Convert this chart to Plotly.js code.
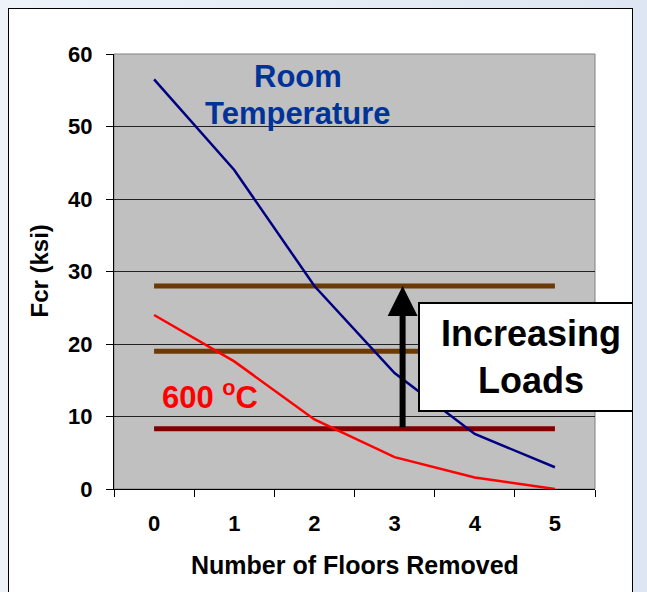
<!DOCTYPE html>
<html>
<head>
<meta charset="utf-8">
<script src="https://cdn.plot.ly/plotly-3.0.1.min.js"></script>
<style>
  html, body { margin: 0; padding: 0; width: 647px; height: 592px; overflow: hidden;
    background: linear-gradient(to right, #eef3fa, #dde6f2); }
  #chart { position: absolute; left: 8px; top: 8px; width: 623px; height: 600px;
    border: 1px solid #000; background: #fff; overflow: hidden; }
</style>
</head>
<body>
<div id="chart"></div>
<script>
// ---- data ----
const floorsRemoved = ['0', '1', '2', '3', '4', '5'];
const roomTemp = [56.5, 44, 28, 16, 7.6, 3.0];
const temp600 = [24, 17.6, 9.6, 4.4, 1.6, 0];
const loadLevels = [28, 19, 8.3];
const loadColors = ['#6B3A05', '#6B3A05', '#800000'];
const yTicks = [0, 10, 20, 30, 40, 50, 60];

const FONT = 'Liberation Sans, Arial, sans-serif';

const traces = [];
loadLevels.forEach((lv, i) => {
  traces.push({
    x: [floorsRemoved[0], floorsRemoved[floorsRemoved.length - 1]],
    y: [lv, lv],
    mode: 'lines',
    line: { color: loadColors[i], width: 5 },
    hoverinfo: 'skip', showlegend: false
  });
});
traces.push({ x: floorsRemoved, y: roomTemp, mode: 'lines',
  line: { color: '#000080', width: 2.5 }, showlegend: false });
traces.push({ x: floorsRemoved, y: temp600, mode: 'lines',
  line: { color: '#FF0000', width: 2.5 }, showlegend: false });

const layout = {
  width: 623, height: 600,
  margin: { l: 105, r: 37, t: 45, b: 120 },
  paper_bgcolor: 'rgba(0,0,0,0)',
  plot_bgcolor: '#C0C0C0',
  showlegend: false,
  xaxis: {
    type: 'category', categoryarray: floorsRemoved, categoryorder: 'array',
    range: [-0.5, 5.5], tickson: 'boundaries',
    ticks: 'outside', ticklen: 7, tickcolor: '#000', tickwidth: 1,
    showline: true, linecolor: '#000', linewidth: 1,
    showgrid: false, zeroline: false,
    tickfont: { family: FONT, size: 22, color: '#000', weight: 700 },
    ticklabelstandoff: 15
  },
  yaxis: {
    range: [0, 60], tickvals: yTicks, ticktext: yTicks.map(String),
    ticks: 'outside', ticklen: 7, tickcolor: '#000', tickwidth: 1,
    showline: true, linecolor: '#000', linewidth: 1,
    showgrid: true, gridcolor: '#222', gridwidth: 1, zeroline: false,
    tickfont: { family: FONT, size: 22, color: '#000', weight: 700 },
    ticklabelstandoff: 9
  },
  shapes: [{
    type: 'rect', xref: 'paper', yref: 'paper', x0: 0, x1: 1, y0: 0, y1: 1,
    line: { color: '#808080', width: 1 }, layer: 'below'
  }],
  annotations: [
    { xref: 'paper', yref: 'paper', x: 0.5, y: 0, yshift: -76, showarrow: false,
      text: 'Number of Floors Removed', xanchor: 'center', yanchor: 'middle',
      font: { family: FONT, size: 25, color: '#000', weight: 700 } },
    { xref: 'paper', yref: 'paper', x: 0, y: 0.5, xshift: -75, showarrow: false,
      text: 'Fcr (ksi)', textangle: -90, xanchor: 'center', yanchor: 'middle',
      font: { family: FONT, size: 24, color: '#000', weight: 700 } },
    { xref: 'paper', yref: 'paper', x: 0.3825, y: 0.949, showarrow: false,
      text: 'Room', xanchor: 'center', yanchor: 'middle',
      font: { family: FONT, size: 31, color: '#003399', weight: 700 } },
    { xref: 'paper', yref: 'paper', x: 0.3825, y: 0.863, showarrow: false,
      text: 'Temperature', xanchor: 'center', yanchor: 'middle',
      font: { family: FONT, size: 31, color: '#003399', weight: 700 } },
    { xref: 'paper', yref: 'paper', x: 0.2, y: 0.216, showarrow: false,
      text: '600 <sup>o</sup>C', xanchor: 'center', yanchor: 'middle',
      font: { family: FONT, size: 31, color: '#FF0000', weight: 700 } },
    { xref: 'x', yref: 'y', x: 3.1, y: loadLevels[0], ax: 3.1, ay: loadLevels[2],
      axref: 'x', ayref: 'y', showarrow: true, text: '', arrowhead: 2,
      arrowsize: 1, arrowwidth: 6, arrowcolor: '#000' },
    { xref: 'paper', yref: 'paper', x: 0.632, y: 0.43, xanchor: 'left', yanchor: 'top',
      showarrow: false, text: 'Increasing<br>Loads', align: 'center',
      width: 222, height: 106, bgcolor: '#FFFFFF', bordercolor: '#000',
      borderwidth: 2, borderpad: 0,
      font: { family: FONT, size: 36, color: '#000', weight: 700 } }
  ]
};

Plotly.newPlot('chart', traces, layout, { displayModeBar: false, staticPlot: true });
</script>
</body>
</html>
